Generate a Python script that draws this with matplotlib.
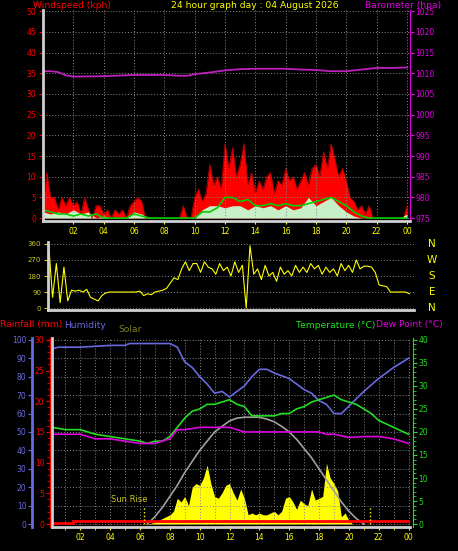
import numpy as np
import matplotlib
matplotlib.use("Agg")
import matplotlib.pyplot as plt

W, H = 458, 551

# ---- data ----
hours_15 = np.arange(97) * 0.25
hours_30 = np.arange(49) * 0.5

gust = [3, 11, 5, 5, 2, 5, 3, 5, 3, 4, 1, 5, 2, 0, 3, 3, 1, 2, 0, 2, 1, 2, 0, 3,
        4, 5, 4, 0, 0, 0, 0, 0, 0, 0, 0, 0, 0, 3, 0, 0, 5, 7, 4, 6, 13, 8, 10, 7,
        18, 12, 17, 10, 13, 18, 8, 11, 6, 9, 7, 10, 11, 6, 9, 8, 12, 9, 10, 7,
        9, 11, 8, 12, 13, 10, 16, 12, 18, 14, 10, 12, 9, 5, 4, 2, 3, 1, 3, 0,
        0, 0, 0, 0, 0, 0, 0, 0, 3]
avg_wind = [2, 1.5, 1, 1, 0.5, 1, 0.5, 1, 0, 0, 0, 0, 1, 0.5, 0,
            0, 0, 0, 0, 0, 0,
            1.5, 1.5, 2.5, 5, 5, 4, 4.5, 3, 3, 3.5, 3, 3.5, 3, 3, 3.5, 4, 4.5, 5,
            4, 3, 1.5, 0.5, 0, 0, 0, 0, 0, 0]
lull = [1.5, 1, 1.5, 1, 2, 1, 1.5, 0, 0.5, 0, 0, 0, 1.5, 1, 0,
        0, 0, 0, 0, 0, 0,
        2, 3, 3, 2.5, 3, 3, 2, 3, 2.5, 3, 2, 3, 2, 2.5, 5, 3, 4, 5,
        3, 1.5, 0.5, 0, 0, 0, 0, 0, 0, 1]

baro_hours = [0, 0.5, 1, 1.5, 2, 4, 6, 8, 9, 9.5, 10, 11, 12, 13, 14, 16, 17, 18,
              19, 20, 21, 22, 23, 24]
baro = [1010.5, 1010.5, 1010.3, 1009.5, 1009.2, 1009.3, 1009.6, 1009.6, 1009.4,
        1009.4, 1009.8, 1010.2, 1010.7, 1011.0, 1011.1, 1011.1, 1010.9, 1010.8,
        1010.5, 1010.5, 1010.9, 1011.3, 1011.3, 1011.4]

wind_dir = [200, 350, 60, 250, 30, 230, 40, 100, 95, 100, 90, 105, 60, 50, 40, 70,
            85, 90, 90, 90, 90, 90, 90, 90, 90, 95, 70, 80, 75, 90, 95, 100,
            110, 140, 170, 160, 220, 260, 210, 250, 250, 200, 260, 230,
            220, 190, 250, 210, 230, 180, 260, 200, 240, 0, 350, 190,
            220, 160, 240, 180, 200, 150, 230, 190, 210, 180, 240, 200,
            230, 200, 250, 220, 240, 190, 230, 200, 220, 180, 250, 210,
            240, 200, 270, 220, 235, 235, 230, 200, 130, 125, 120, 90,
            90, 90, 90, 90, 80]

hum_hours = [0.1, 0.5, 2, 4, 5, 5.3, 8, 8.5, 9, 9.5, 10, 10.5, 11, 11.5, 12, 12.5,
             13, 13.5, 14, 14.5, 15, 16, 16.5, 17, 17.5, 18, 18.5, 19, 19.5, 20,
             20.5, 21, 22, 23, 24]
humidity = [95, 96, 96, 97, 97, 98, 98, 96, 88, 85, 80, 76, 71, 72, 69, 72, 75, 80,
            84, 84, 82, 79, 76, 73, 71, 67, 65, 60, 60, 64, 68, 72, 79, 85, 90]

temp_hours = [0.1, 1, 2, 3, 4, 5, 6, 6.5, 7, 7.5, 8, 8.5, 9, 9.5, 10, 10.5, 11,
              11.5, 12, 12.5, 13, 13.5, 14, 14.5, 15, 15.5, 16, 16.5, 17, 17.5,
              18, 18.5, 19, 19.5, 20, 20.5, 21, 21.5, 22, 23, 24]
temperature = [21, 20.5, 20.5, 19.5, 19, 18.5, 18, 17.5, 18, 18, 19, 21, 23, 24.5,
               25, 26, 26, 26.5, 27, 26, 25.5, 23.5, 23.5, 23.5, 23.5, 24, 24, 25,
               25.5, 26.5, 27, 27.5, 28, 27, 26.5, 26, 25, 24, 22.5, 21, 19.5]
dew_hours = [0.1, 2, 3, 4, 5, 6, 7, 8, 8.5, 9, 10, 11, 12, 13, 14, 15, 16, 17, 18,
             18.5, 19, 20, 21, 22, 23, 24]
dew_point = [19.5, 19.5, 18.5, 18.5, 18, 17.5, 17.5, 18.5, 20.5, 20.5, 21, 21, 21,
             20, 20, 20, 20, 20, 20, 19.5, 19.5, 18.8, 19, 19, 18.5, 17.5]

solar_max_hours = np.arange(13, 43) * 0.5
solar_max = [0, 4, 9, 15, 21, 28, 34, 40, 45, 50, 53, 56, 57.5, 58, 58, 58, 57,
             55.5, 53, 50, 46, 41, 36, 30, 24, 18, 12, 7, 3, 0]
solar_hours = np.arange(26, 82) * 0.25
solar = [0, 0.5, 1, 2, 3, 4, 5, 7, 14, 12, 15, 10, 20, 22, 21, 25, 32, 22, 15, 14,
         17, 21, 22, 17, 13, 19, 14, 5, 6, 5, 6, 5, 5, 6, 7, 5, 7, 14, 15, 12,
         8, 13, 11, 10, 19, 13, 14, 15, 33, 25, 22, 18, 4, 6, 2, 0]

hour_labels = ['02', '04', '06', '08', '10', '12', '14', '16', '18', '20', '22', '00']
hour_ticks = np.arange(2, 25, 2)

RED = '#ff0000'
MAG = '#e000e0'
YEL = '#ffff00'
OLIVE = '#c8c820'
GRN = '#22dd22'
BLUE = '#6a6ae0'
GRID = dict(color='#888888', linestyle=(0, (1, 2)), linewidth=0.7)


def rect(l, t, r, b):
    return [l / W, 1 - b / H, (r - l) / W, (b - t) / H]


def base(ax):
    ax.set_facecolor('black')
    for s in ['top', 'right']:
        ax.spines[s].set_visible(False)
    for s in ['left', 'bottom']:
        ax.spines[s].set_color('#d0d0d0')
        ax.spines[s].set_linewidth(2)


fig = plt.figure(figsize=(W / 100, H / 100), dpi=100, facecolor='black')
fs = 5.5
lfs = 6.6

# ---- top panel: wind + barometer ----
ax1 = fig.add_axes(rect(43, 10, 410, 221))
base(ax1)
ax1.set_xlim(0, 24.2)
ax1.set_ylim(-0.7, 50.3)
ax1.fill_between(hours_15, gust, color=RED, lw=0)
ax1.plot(hours_15, gust, color='#c00000', lw=0.6)
ax1.fill_between(hours_30, lull, color='#c8f0c8', lw=0)
ax1.plot(hours_30, avg_wind, color='#00d000', lw=1.2)
ax1.plot(baro_hours, np.array(baro) - 975, color='#c020c0', lw=1.3)
ax1.set_xticks(hour_ticks, hour_labels)
ax1.set_yticks(np.arange(0, 51, 5))
ax1.tick_params(axis='x', colors=YEL, labelsize=fs, length=2, pad=2)
ax1.tick_params(axis='y', colors=RED, labelsize=fs, length=3, pad=2)
ax1.grid(True, **GRID)
sec1 = ax1.secondary_yaxis('right', functions=(lambda y: y + 975, lambda p: p - 975))
sec1.set_yticks(np.arange(975, 1026, 5))
sec1.tick_params(colors=MAG, labelsize=fs, length=3, pad=1)
sec1.spines['right'].set_color(MAG)

fig.text(33 / W, 1 - 6 / H, 'Windspeed (kph)', color=RED, fontsize=lfs, va='center')
fig.text(255 / W, 1 - 6 / H, '24 hour graph day : 04 August 2026', color=YEL,
         fontsize=lfs, va='center', ha='center')
fig.text(441 / W, 1 - 6 / H, 'Barometer (hpa)', color=MAG, fontsize=lfs,
         va='center', ha='right')

# ---- middle panel: wind direction ----
ax2 = fig.add_axes(rect(48, 242, 414, 310))
base(ax2)
ax2.set_xlim(0.2, 24.3)
ax2.set_ylim(-11, 371)
ax2.plot(hours_15, wind_dir, color=YEL, lw=0.8)
ax2.set_xticks([])
ax2.set_yticks([0, 90, 180, 270, 360])
ax2.tick_params(axis='y', colors=OLIVE, labelsize=5, length=3, pad=2)
ax2.yaxis.grid(True, **GRID)
for lab, d in zip(['N', 'W', 'S', 'E', 'N'], [360, 270, 180, 90, 0]):
    fig.text(432 / W, 1 - (308 - d * 64 / 360) / H, lab, color=YEL, fontsize=7.5,
             va='center', ha='center')

# ---- bottom panel: temperature, humidity, solar ----
ax3 = fig.add_axes(rect(52, 338, 410, 527))
base(ax3)
ax3.set_xlim(0.1, 24.1)
ax3.set_ylim(-1.6, 101)
ax3.fill_between(solar_hours, solar, color=YEL, lw=0)
ax3.plot(solar_max_hours, solar_max, color='#a0a0a0', lw=1.2)
ax3.plot([0.1, 1.5], [0.4, 0.4], color=RED, lw=2)
ax3.plot([1.5, 24.1], [1.4, 1.4], color=RED, lw=2)
ax3.plot(hum_hours, humidity, color=BLUE, lw=1.2)
ax3.plot(np.array(temp_hours), np.array(temperature) * 2.5, color=GRN, lw=1.2)
ax3.plot(np.array(dew_hours), np.array(dew_point) * 2.5, color=MAG, lw=1.2)
ax3.vlines([6.3, 21.4], 0, 10, colors=YEL, linestyles=':', lw=1)
ax3.text(5.3, 11, 'Sun Rise', color=OLIVE, fontsize=6, ha='center', va='bottom')
ax3.set_xticks(hour_ticks, hour_labels)
ax3.set_xticks(np.arange(1, 25, 2), minor=True)
ax3.tick_params(axis='x', which='both', colors=YEL, labelsize=fs, length=2, pad=2)
ax3.set_yticks(np.arange(0, 101, 10))
ax3.tick_params(axis='y', left=False, labelleft=False)
ax3.grid(True, which='both', **GRID)

sec_h = ax3.secondary_yaxis(-20 / 358)
sec_h.set_yticks(np.arange(0, 101, 10))
sec_h.tick_params(colors=BLUE, labelsize=fs, length=3, pad=1)
sec_h.spines['left'].set_color(BLUE)
sec_h.spines['left'].set_linewidth(2)

sec_r = ax3.secondary_yaxis(-2 / 358, functions=(lambda y: y * 0.3, lambda r: r / 0.3))
sec_r.set_yticks(np.arange(0, 31, 5))
sec_r.set_yticks(np.arange(0, 31, 1), minor=True)
sec_r.tick_params(which='both', colors=RED, labelsize=fs, length=3, pad=1)
sec_r.tick_params(which='minor', length=2)
sec_r.spines['left'].set_color(RED)

sec_t = ax3.secondary_yaxis(1 + 3 / 358, functions=(lambda y: y * 0.4, lambda t: t / 0.4))
sec_t.set_yticks(np.arange(0, 41, 5))
sec_t.set_yticks(np.arange(0, 41, 1), minor=True)
sec_t.tick_params(which='both', colors=GRN, labelsize=fs, length=3, pad=1)
sec_t.tick_params(which='minor', length=2)
sec_t.spines['right'].set_color(GRN)

fig.text(0 / W, 1 - 325 / H, 'Rainfall (mm)', color=RED, fontsize=lfs, va='center')
fig.text(64 / W, 1 - 325 / H, 'Humidity', color=BLUE, fontsize=lfs, va='center')
fig.text(118 / W, 1 - 330 / H, 'Solar', color='#808020', fontsize=lfs, va='center')
fig.text(375 / W, 1 - 325 / H, 'Temperature (°C)', color=GRN, fontsize=lfs,
         va='center', ha='right')
fig.text(376 / W, 1 - 325 / H, 'Dew Point (°C)', color=MAG, fontsize=lfs,
         va='center', ha='left')

fig.savefig('out.png', dpi=100, facecolor='black')
